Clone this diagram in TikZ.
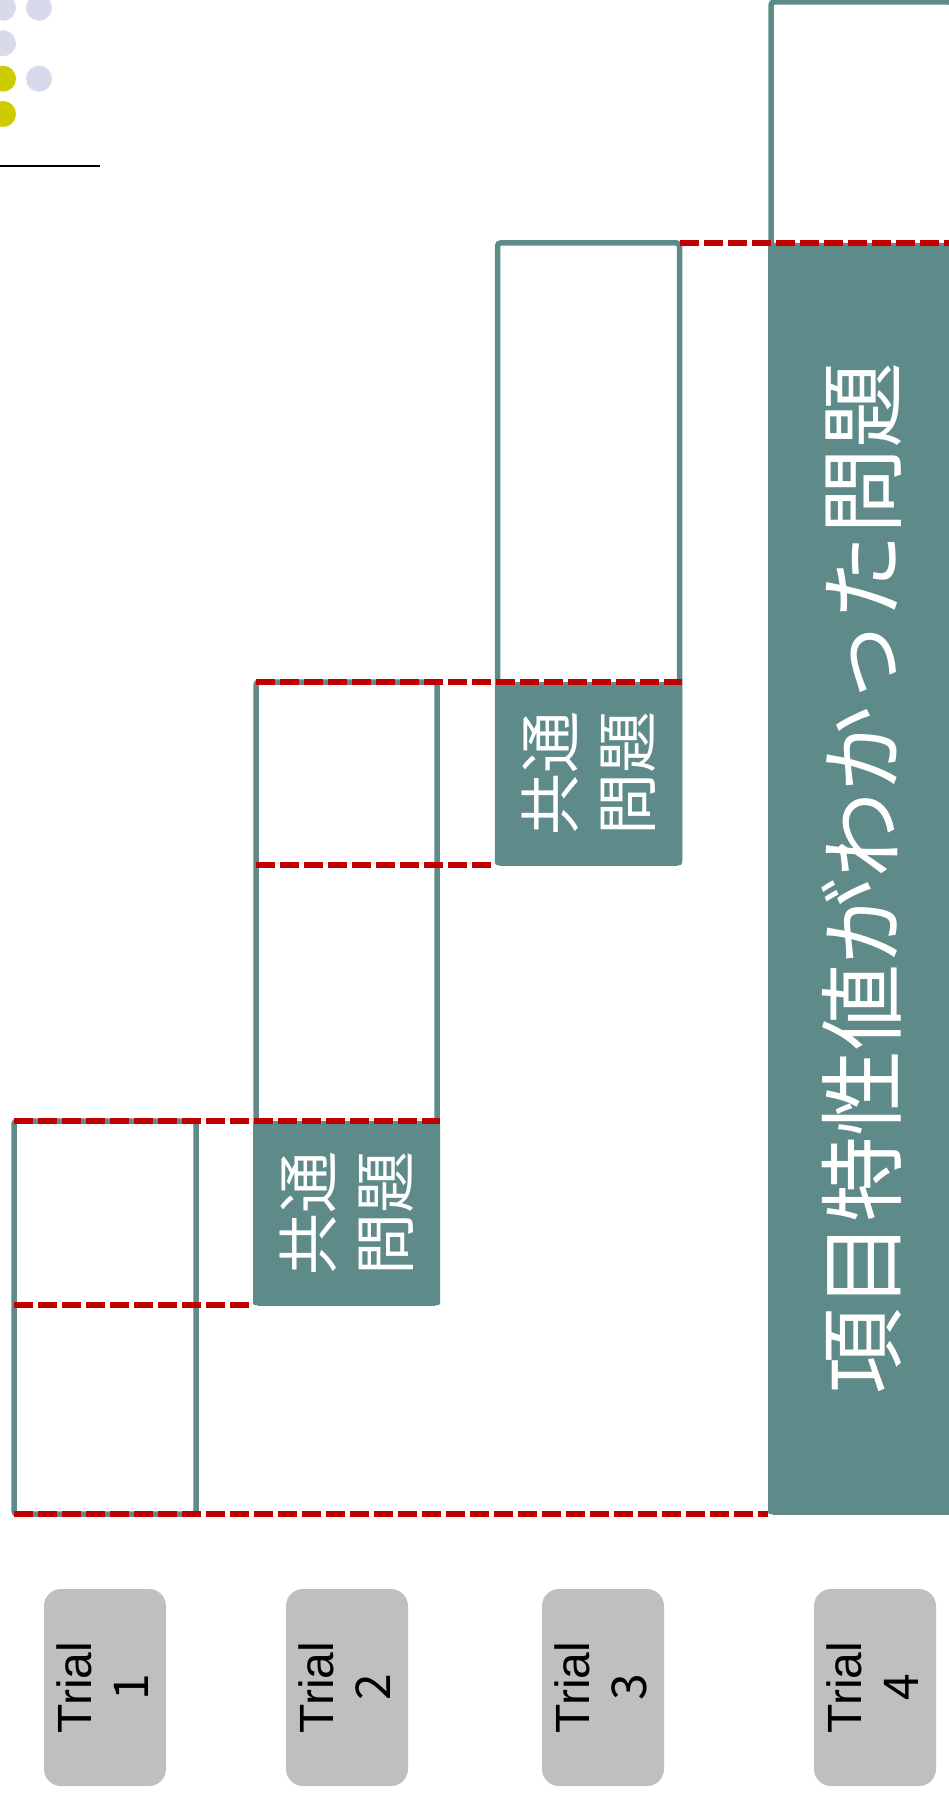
\documentclass[tikz,border=0pt]{standalone}
\usepackage{graphicx}
\usepackage{fontspec}
\setmainfont{Liberation Sans}
\newfontfamily\jpfont{Noto Sans CJK JP}
\definecolor{tealA}{HTML}{5E8A89}
\definecolor{redA}{HTML}{C00000}
\definecolor{greyA}{HTML}{BFBFBF}
\definecolor{lilacA}{HTML}{D9D9EC}
\definecolor{limeA}{HTML}{CCCC00}
\newcommand{\vlabel}[2][0pt]{\rotatebox{90}{\begin{tabular}{@{}c@{}}\rule{0pt}{#1}#2\end{tabular}}}
\begin{document}
\begin{tikzpicture}[x=1pt,y=-1pt,col/.style={shape=rectangle,draw=tealA,line width=5.5pt,rounded corners=3pt,inner sep=0pt,outer sep=0pt},shared/.style={shape=rectangle,fill=tealA,rounded corners=2pt,inner sep=0pt,outer sep=0pt,text=white,font=\jpfont\fontsize{62}{77}\selectfont},trial/.style={shape=rectangle,fill=greyA,rounded corners=17pt,minimum width=122pt,minimum height=197pt,inner sep=0pt,font=\fontsize{48}{57}\selectfont},cut/.style={draw=redA,line width=5.5pt,dash pattern=on 19pt off 5pt}]
\useasboundingbox (0,0) rectangle (949,1795);
\def\ty{1687.5};

\fill[lilacA] (3,7.7) circle (13pt);
\fill[lilacA] (39,7.7) circle (13pt);
\fill[lilacA] (3,43.3) circle (13pt);
\fill[limeA] (3,78.7) circle (13pt);
\fill[lilacA] (39,78.7) circle (13pt);
\fill[limeA] (3,114) circle (13pt);
\draw[line width=2.5pt] (0,166) -- (100,166);

\node[shared,minimum width=187pt,minimum height=184pt] (s2) at (346.5,1213) {\vlabel[71pt]{共通\\問題}};
\node[shared,minimum width=187pt,minimum height=183pt] (s3) at (588.5,773.5) {\vlabel[71pt]{共通\\問題}};
\node[shared,minimum width=187pt,minimum height=1271pt,font=\jpfont\fontsize{86}{86}\selectfont] (s4) at (861.5,878.5) {\vlabel[91.7pt]{項目特性値がわかった問題}};

\node[col,minimum width=182pt,minimum height=393pt] (c1) at (105,1317.5) {};
\node[col,minimum width=181pt,minimum height=621pt] (c2) at (346.5,992.5) {};
\node[col,minimum width=182pt,minimum height=620pt] (c3) at (588.5,553) {};
\node[col,minimum width=181pt,minimum height=1510pt] (c4) at (861.5,757) {};

\draw[cut] (c1.south west) -- (c1.south west -| s4.west);
\draw[cut] (c1.west |- s2.south) -- (s2.south west);
\draw[cut] (c1.north west) -- (s2.north east);
\draw[cut] (c2.west |- s3.south) -- (s3.south west);
\draw[cut] (c2.north west) -- (s3.north east);
\draw[cut] (c3.north east) -- (s4.north east);

\node[trial] (t1) at (105,\ty) {\vlabel[47.5pt]{Trial\\{\jpfont 1}}};
\node[trial] (t2) at (347,\ty) {\vlabel[47.5pt]{Trial\\{\jpfont 2}}};
\node[trial] (t3) at (603,\ty) {\vlabel[47.5pt]{Trial\\{\jpfont 3}}};
\node[trial] (t4) at (875,\ty) {\vlabel[47.5pt]{Trial\\{\jpfont 4}}};
\end{tikzpicture}
\end{document}
